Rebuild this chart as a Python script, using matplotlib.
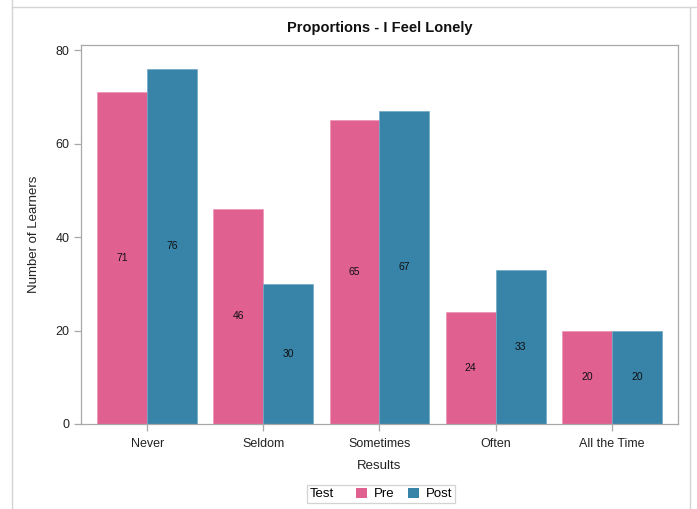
import matplotlib
matplotlib.use("Agg")
import matplotlib.pyplot as plt
import numpy as np
from matplotlib.patches import Patch
from matplotlib.lines import Line2D
from matplotlib.offsetbox import HPacker

plt.rcParams['font.family'] = ['Liberation Sans', 'DejaVu Sans']

categories = ["Never", "Seldom", "Sometimes", "Often", "All the Time"]
pre_values = [71, 46, 65, 24, 20]
post_values = [76, 30, 67, 33, 20]
y_ticks = [0, 20, 40, 60, 80]

pre_color = "#E0608F"
post_color = "#3883A8"
grid_gray = "#A8A8A8"

fig = plt.figure(figsize=(6.97, 5.09), dpi=100)
W, H = 697, 509

# light page frame around the output
fig.add_artist(Line2D([12 / W, 12 / W], [0, 1], color="#D4D4D4", lw=1.0))
fig.add_artist(Line2D([12 / W, 1], [1 - 7 / H, 1 - 7 / H], color="#D4D4D4", lw=1.0))
fig.add_artist(Line2D([690 / W, 690 / W], [0, 1 - 7 / H], color="#D4D4D4", lw=1.0))

ax = fig.add_axes([81 / W, 1 - 424 / H, (678 - 81) / W, (424 - 45) / H])

x = np.arange(len(categories))
bw = 0.43
bars_pre = ax.bar(x - bw / 2, pre_values, width=bw, color=pre_color,
                  edgecolor="#EE93B5", linewidth=0.5, label="Pre")
bars_post = ax.bar(x + bw / 2, post_values, width=bw, color=post_color,
                   edgecolor="#6FA8C6", linewidth=0.5, label="Post")

for bars, vals in ((bars_pre, pre_values), (bars_post, post_values)):
    for b, v in zip(bars, vals):
        ax.text(b.get_x() + b.get_width() / 2, v / 2, f"{v}",
                ha="center", va="center", fontsize=7.5, color="#111111")

ax.set_xlim(-0.57, len(categories) - 1 + 0.57)
ax.set_ylim(0, 81.07)
ax.set_yticks(y_ticks)
ax.set_xticks(x)
ax.set_xticklabels(categories)

for s in ax.spines.values():
    s.set_color(grid_gray)
    s.set_linewidth(0.9)
ax.tick_params(axis="both", colors=grid_gray, labelcolor="#222222",
               labelsize=9, length=5, width=0.9)
ax.tick_params(axis="x", pad=5)

ax.set_xlabel("Results", fontsize=9.5, color="#222222", labelpad=7)
ax.set_ylabel("Number of Learners", fontsize=9.5, color="#222222", labelpad=11)

fig.text(380 / W, 1 - 28 / H, "Proportions - I Feel Lonely", ha="center",
         va="center", fontsize=10.5, fontweight="bold", color="#111111")

handles = [Patch(facecolor=pre_color, edgecolor="none", label="Pre"),
           Patch(facecolor=post_color, edgecolor="none", label="Post")]
leg = fig.legend(handles=handles, title="Test", ncol=2, loc="center",
                 bbox_to_anchor=(381 / W, 1 - 494 / H), fontsize=9.5,
                 title_fontsize=9.5, frameon=True, fancybox=False,
                 handlelength=0.85, handleheight=0.85, handletextpad=0.5,
                 columnspacing=1.0, borderpad=0.2, borderaxespad=0)
leg.get_frame().set_edgecolor("#C8C8C8")
leg.get_frame().set_linewidth(0.9)
# put the legend title on the same row as the entries
leg._legend_box.__class__ = HPacker
leg._legend_box.sep = 16

fig.savefig("out.png", dpi=100)
